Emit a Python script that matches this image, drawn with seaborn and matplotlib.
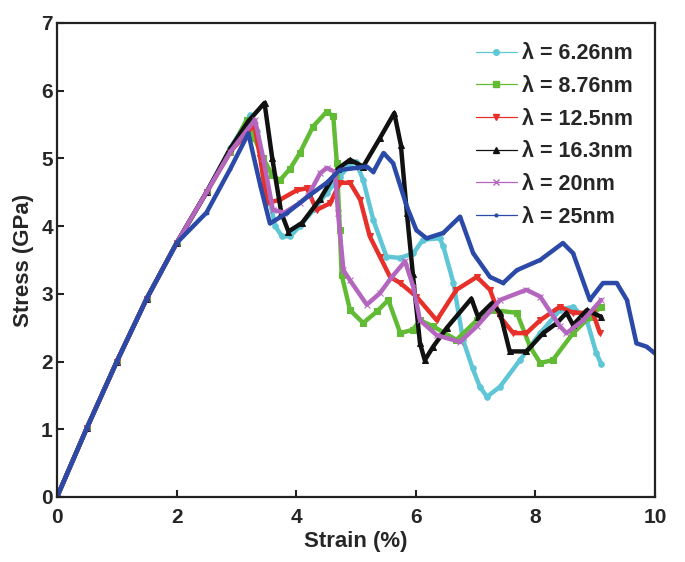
import pandas as pd
import seaborn as sns
import matplotlib.pyplot as plt
from matplotlib.lines import Line2D

sns.set_style('white')
plt.rcParams['font.family'] = ['Liberation Sans', 'DejaVu Sans']
plt.rcParams['font.weight'] = 'bold'

labels = ['λ = 6.26nm', 'λ = 8.76nm', 'λ = 12.5nm', 'λ = 16.3nm', 'λ = 20nm', 'λ = 25nm']

# shared elastic rise
rise_x = [0, 0.5, 1.0, 1.5, 2.0]
rise_y = [0, 1.02, 2.0, 2.93, 3.75]

x_626 = [2.5, 2.9, 3.23, 3.35, 3.5, 3.65, 3.76, 3.9, 4.06, 4.3, 4.51, 4.73, 4.9, 5.0, 5.12, 5.29,
         5.51, 5.74, 5.96, 6.12, 6.4, 6.46, 6.63, 6.79, 6.95, 7.07, 7.19, 7.41, 7.74, 8.08, 8.41,
         8.63, 8.86, 9.02, 9.1]
y_626 = [4.5, 5.15, 5.64, 5.4, 4.6, 4.0, 3.85, 3.85, 4.0, 4.25, 4.49, 4.73, 4.92, 4.95, 4.68, 4.09,
         3.55, 3.53, 3.6, 3.8, 3.82, 3.7, 3.16, 2.32, 1.9, 1.63, 1.48, 1.63, 2.02, 2.42, 2.76,
         2.81, 2.61, 2.12, 1.97]

x_876 = [2.5, 2.9, 3.17, 3.3, 3.45, 3.6, 3.73, 3.9, 4.06, 4.28, 4.51, 4.62, 4.68, 4.73, 4.76, 4.9,
         5.12, 5.35, 5.54, 5.74, 5.95, 6.07, 6.29, 6.68, 7.02, 7.29, 7.69, 7.91, 8.08, 8.29, 8.63,
         8.91, 9.1]
y_876 = [4.5, 5.1, 5.57, 5.3, 5.0, 4.75, 4.68, 4.85, 5.08, 5.47, 5.69, 5.62, 4.93, 3.94, 3.28, 2.76,
         2.57, 2.74, 2.91, 2.42, 2.47, 2.61, 2.52, 2.32, 2.61, 2.76, 2.72, 2.22, 1.98, 2.02, 2.42,
         2.66, 2.81]

x_125 = [2.5, 2.9, 3.3, 3.4, 3.51, 3.73, 4.01, 4.18, 4.34, 4.57, 4.73, 4.9, 5.07, 5.23, 5.4, 5.57,
         5.74, 6.01, 6.35, 6.68, 7.02, 7.24, 7.41, 7.63, 7.85, 8.08, 8.41, 8.63, 8.96, 9.08]
y_125 = [4.5, 5.1, 5.5, 5.0, 4.34, 4.39, 4.53, 4.56, 4.24, 4.34, 4.64, 4.64, 4.39, 3.85, 3.55, 3.25,
         3.16, 2.96, 2.61, 3.06, 3.25, 3.06, 2.66, 2.42, 2.42, 2.61, 2.81, 2.72, 2.72, 2.42]

x_163 = [2.5, 2.9, 3.2, 3.47, 3.6, 3.75, 3.87, 4.1, 4.4, 4.7, 4.9, 5.12, 5.4, 5.64, 5.75, 5.85,
         5.95, 6.07, 6.15, 6.29, 6.52, 6.93, 7.04, 7.27, 7.41, 7.57, 7.85, 8.13, 8.36, 8.52, 8.63,
         8.86, 9.1]
y_163 = [4.5, 5.15, 5.55, 5.82, 5.0, 4.2, 3.92, 4.05, 4.4, 4.85, 4.98, 4.88, 5.3, 5.67, 5.2, 4.2,
         3.3, 2.27, 2.02, 2.22, 2.5, 2.93, 2.66, 2.86, 2.72, 2.15, 2.15, 2.42, 2.57, 2.72, 2.54,
         2.76, 2.66]

x_20 = [2.5, 2.9, 3.31, 3.45, 3.61, 3.8, 4.06, 4.2, 4.4, 4.51, 4.65, 4.7, 4.79, 4.9, 5.18, 5.4,
        5.6, 5.82, 5.96, 6.07, 6.35, 6.74, 7.02, 7.41, 7.85, 8.08, 8.41, 8.52, 8.8, 9.1]
y_20 = [4.5, 5.1, 5.57, 5.0, 4.24, 4.2, 4.34, 4.45, 4.78, 4.86, 4.8, 4.19, 3.35, 3.2, 2.84, 3.01,
        3.25, 3.48, 3.1, 2.61, 2.39, 2.29, 2.52, 2.91, 3.06, 2.96, 2.52, 2.42, 2.61, 2.91]

x_25 = [2.5, 2.9, 3.2, 3.4, 3.56, 3.84, 4.23, 4.51, 4.73, 5.01, 5.18, 5.29, 5.46, 5.62, 5.85, 6.01,
        6.18, 6.46, 6.74, 6.96, 7.24, 7.46, 7.69, 8.08, 8.46, 8.63, 8.91, 9.13, 9.36, 9.53, 9.69,
        9.86, 10.0]
y_25 = [4.2, 4.85, 5.37, 4.6, 4.04, 4.19, 4.46, 4.64, 4.83, 4.86, 4.88, 4.8, 5.08, 4.93, 4.29, 3.94,
        3.82, 3.9, 4.14, 3.6, 3.25, 3.16, 3.35, 3.5, 3.75, 3.6, 2.91, 3.16, 3.16, 2.91, 2.27,
        2.22, 2.12]

strains = [x_626, x_876, x_125, x_163, x_20, x_25]
stresses = [y_626, y_876, y_125, y_163, y_20, y_25]
colors = ['#5ec6d6', '#62bb35', '#e8302a', '#111111', '#b466bf', '#2b4aa8']
markers = ['o', 's', 'v', '^', 'x', '.']

fig, ax = plt.subplots(figsize=[6.85, 5.62], dpi=100)
ax.set_position([57/685, 1-497/562, 598/685, 474/562])

handles = []
for lab, xs, ys, c, m in zip(labels, strains, stresses, colors, markers):
    df = pd.DataFrame({'strain': rise_x + xs, 'stress': rise_y + ys})
    sns.lineplot(data=df, x='strain', y='stress', ax=ax, color=c, lw=3.2,
                 marker=m, markersize=4, markeredgecolor=c, estimator=None, sort=False)
    handles.append(Line2D([], [], color=c, lw=0.9, marker=m, markersize=4,
                          markeredgecolor=c, label=lab))

ax.set_xlim(0, 10)
ax.set_ylim(0, 7)
ax.set_xticks([0, 2, 4, 6, 8, 10])
ax.set_yticks(range(8))
ax.set_xlabel('Strain (%)', fontsize=16, fontweight='bold', labelpad=3)
ax.set_ylabel('Stress (GPa)', fontsize=16, fontweight='bold', labelpad=5)
ax.tick_params(axis='both', direction='in', length=5, width=1.5, color='#222222',
               labelsize=15, bottom=True, left=True, top=False, right=False)
ax.tick_params(axis='x', pad=8)
ax.tick_params(axis='y', pad=3)
for s in ax.spines.values():
    s.set_linewidth(1.6)
    s.set_color('#222222')
for t in ax.get_xticklabels() + ax.get_yticklabels():
    t.set_fontweight('bold')

ax.legend(handles=handles, loc='upper left', bbox_to_anchor=(0.70, 0.957), frameon=False,
          labelspacing=0.54, handlelength=1.9, handletextpad=0.25,
          borderpad=0, borderaxespad=0, prop={'weight': 'bold', 'size': 15.5})

plt.savefig('out.png', dpi=100)
plt.close()
